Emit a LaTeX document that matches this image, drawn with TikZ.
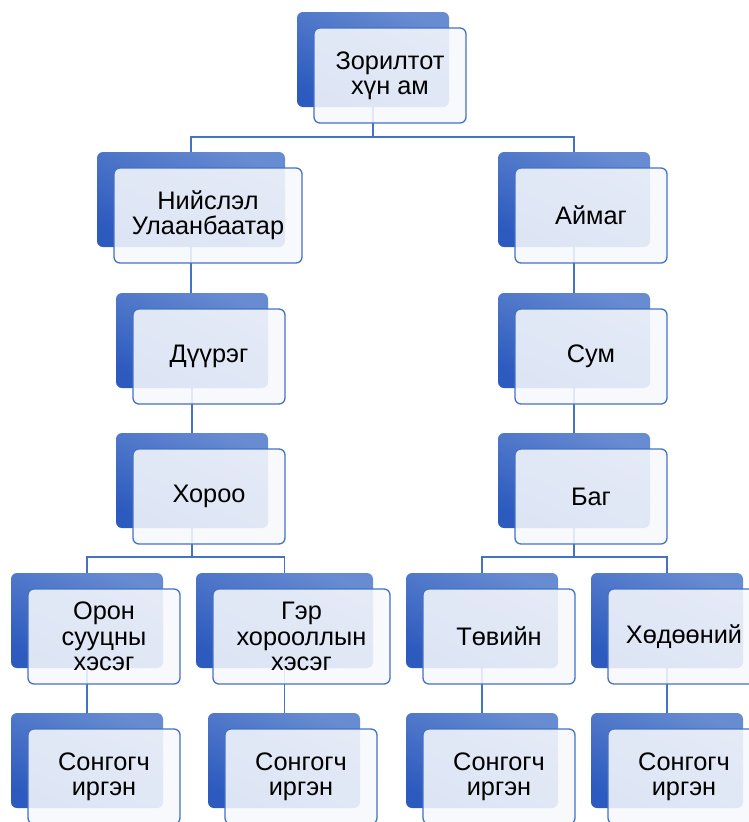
\documentclass[tikz,border=0pt]{standalone}
\usepackage{fontspec}
\setmainfont{Liberation Sans}
\usetikzlibrary{backgrounds,calc}
\definecolor{edgeblue}{RGB}{68,114,196}
\definecolor{backtop}{RGB}{104,140,210}
\definecolor{backbot}{RGB}{44,90,190}
\definecolor{frontfill}{RGB}{246,248,252}
\tikzset{
  backbox/.style={rectangle, rounded corners=4.5pt, inner sep=0pt, outer sep=0pt,
    minimum height=71.25pt, top color=backtop, bottom color=backbot, shading angle=-25, draw=none},
  frontbox/.style={rectangle, rounded corners=4.5pt, inner sep=0pt, outer sep=0pt,
    minimum height=71.25pt, fill=frontfill, fill opacity=0.88, text opacity=1,
    draw=edgeblue, line width=1pt, align=center, text=black,
    font=\fontsize{19pt}{19pt}\selectfont},
  conn/.style={draw=edgeblue, line width=0.9pt}
}
\newcommand\blk[5]{%
  \node[backbox, minimum width=#4*0.75pt, anchor=north west] (#1) at (#2,#3) {};
  \node[frontbox, minimum width=#4*0.75pt, anchor=north west] (#1f) at ([shift={(17,16)}]#1.north west) {#5};}
\begin{document}
\begin{tikzpicture}[x=0.75pt,y=-0.75pt]
\useasboundingbox (0,0) rectangle (749,822);
\clip (0,0) rectangle (749,822);
\blk{top}{297}{12}{152}{Зорилтот\\хүн ам}
\blk{nis}{97}{152}{188}{Нийслэл\\Улаанбаатар}
\blk{aim}{498}{152}{152}{Аймаг}
\blk{duu}{116}{293}{152}{Дүүрэг}
\blk{xor}{116}{433}{152}{Хороо}
\blk{sum}{498}{293}{152}{Сум}
\blk{bag}{498}{433}{152}{Баг}
\blk{oron}{11}{573}{152}{Орон\\сууцны\\хэсэг}
\blk{ger}{196}{573}{177}{Гэр\\хорооллын\\хэсэг}
\blk{tov}{406}{573}{152}{Төвийн}
\blk{xod}{591}{573}{152}{Хөдөөний}
\blk{sa}{11}{713}{152}{Сонгогч\\иргэн}
\blk{sb}{208}{713}{152}{Сонгогч\\иргэн}
\blk{sc}{406}{713}{152}{Сонгогч\\иргэн}
\blk{sd}{591}{713}{152}{Сонгогч\\иргэн}
\coordinate (j1) at ($(top.center)+(0,77.5)$);
\coordinate (j2) at ($(xor.center)+(0,76.5)$);
\coordinate (j3) at ($(bag.center)+(0,76.5)$);
\begin{pgfonlayer}{background}
\draw[conn] (top.center) -- (j1) -| (nis.north);
\draw[conn] (j1) -| (aim.north);
\draw[conn] (nis.center) -- (nis.center |- duu.north);
\draw[conn] (duu.center) -- (duu.center |- xor.north);
\draw[conn] (aim.center) -- (aim.center |- sum.north);
\draw[conn] (sum.center) -- (sum.center |- bag.north);
\draw[conn] (xor.center) -- (j2) -| (oron.north);
\draw[conn] (j2) -| (ger.north);
\draw[conn] (bag.center) -- (j3) -| (tov.north);
\draw[conn] (j3) -| (xod.north);
\draw[conn] (oron.center) -- (oron.center |- sa.north);
\draw[conn] (ger.center) -- (ger.center |- sb.north);
\draw[conn] (tov.center) -- (tov.center |- sc.north);
\draw[conn] (xod.center) -- (xod.center |- sd.north);
\end{pgfonlayer}
\end{tikzpicture}
\end{document}
